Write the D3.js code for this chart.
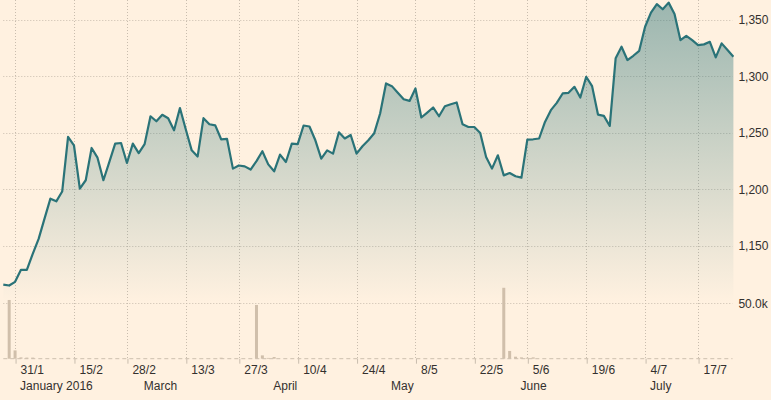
<!DOCTYPE html>
<html>
<head>
<meta charset="utf-8">
<script src="https://cdn.jsdelivr.net/npm/d3@7"></script>
<style>
  html, body { margin: 0; padding: 0; background: #fff1e0; }
  svg { display: block; }
  text { font-family: "Liberation Sans", Arial, sans-serif; }
</style>
</head>
<body>
<svg id="chart" width="771" height="400"></svg>
<script>
// ---- data ----
// trading-day index 0 = 28 Jan 2016 ... 124 = 26 Jul 2016
const prices = [
  1115.5,1114.7,1118,1128.6,1128.6,1142.8,1156,1174,1191.7,1189.3,
  1198,1246.4,1239,1200.5,1208,1236.6,1228,1208,1224,1240.5,
  1241,1223.3,1240.5,1232,1240,1264.7,1260.3,1266,1263,1252.3,
  1272,1253,1234.5,1229,1263,1257.6,1256.6,1244.3,1244.6,1218.3,
  1221.1,1220.3,1217.5,1225,1233.7,1222.1,1215.9,1230.7,1224.2,1240.5,
  1240,1256.5,1255.6,1243.4,1227.2,1234.5,1231.6,1250.5,1245,1248.1,
  1231.6,1238.1,1243.4,1249.7,1267.1,1293.8,1291.4,1285.5,1279.8,1278.3,
  1289.3,1263.6,1268,1272.5,1264.7,1273.6,1275.4,1276.9,1257.6,1255.2,
  1255.2,1249.9,1228.6,1218.3,1230.1,1212.3,1214.4,1211.5,1210.3,1244,
  1244.3,1245,1259.7,1270.1,1276.6,1284.9,1285.5,1290.8,1281.3,1299.7,
  1291.4,1266.2,1265,1256.1,1316,1326.3,1314.5,1318.3,1322.7,1344,
  1356.5,1364,1359.5,1365.4,1355.3,1332.2,1336,1332.2,1327.8,1328.4,
  1330.7,1316.9,1329.3,1323.4,1317.4
];
const volume = [
  0,53000,7500,1200,1000,1000,0,0,0,0,
  0,800,0,0,0,0,0,0,0,0,
  0,0,0,0,0,0,0,0,0,0,
  0,0,0,0,0,0,0,900,0,0,
  0,0,0,48500,3000,700,1500,0,0,0,
  0,0,0,0,0,0,0,0,0,0,
  0,0,0,0,0,0,0,0,0,0,
  0,0,0,0,0,0,0,0,0,0,
  0,0,0,0,0,64000,7000,1800,1200,800,
  1200,0,0,0,0,0,0,0,0,0,
  0,0,0,0,0,0,0,0,0,0,
  0,0,0,0,0,0,0,0,0,0,
  0,0,0,0,0
];
const tickIndex  = [2, 12, 21, 31, 40, 50, 60, 70, 80, 89, 99, 109, 118];
const tickLabels = ["31/1","15/2","28/2","13/3","27/3","10/4","24/4","8/5","22/5","5/6","19/6","4/7","17/7"];
const monthIndex  = [2, 23, 45, 65, 87, 109];
const monthLabels = ["January 2016","March","April","May","June","July"];
const priceTicks  = [1150, 1200, 1250, 1300, 1350];
const volumeTicks = [50000];

// ---- layout ----
const svg = d3.select("#chart");
const left = 3.3, right = 733.4, gridRight = 732.5;
const baseY = 358.7;

const x  = d3.scaleLinear().domain([0, prices.length - 1]).range([left, right]);
const y  = d3.scaleLinear().domain([1150, 1350]).range([245.7, 20]);
const yv = d3.scaleLinear().domain([0, 50000]).range([baseY, 303.3]);

const gridColor = "#c9bdae";

// gradient
const defs = svg.append("defs");
const grad = defs.append("linearGradient").attr("id", "fillGrad")
  .attr("gradientUnits", "userSpaceOnUse").attr("x1", 0).attr("x2", 0).attr("y1", 0).attr("y2", 302);
grad.append("stop").attr("offset", 0).attr("stop-color", "#2a7378").attr("stop-opacity", 0.47);
grad.append("stop").attr("offset", 1).attr("stop-color", "#2a7378").attr("stop-opacity", 0.0);

// vertical grid
svg.append("g").selectAll("line").data(tickIndex).join("line")
  .attr("x1", d => Math.round(x(d)) + 0.5).attr("x2", d => Math.round(x(d)) + 0.5)
  .attr("y1", 0).attr("y2", baseY)
  .attr("stroke", gridColor).attr("stroke-width", 1).attr("stroke-dasharray", "1,2");

// horizontal grid (price)
svg.append("g").selectAll("line").data(priceTicks).join("line")
  .attr("x1", left).attr("x2", gridRight)
  .attr("y1", d => Math.round(y(d)) + 0.5).attr("y2", d => Math.round(y(d)) + 0.5)
  .attr("stroke", gridColor).attr("stroke-width", 1).attr("stroke-dasharray", "1,2");
// horizontal grid (volume)
svg.append("g").selectAll("line").data(volumeTicks).join("line")
  .attr("x1", left).attr("x2", gridRight)
  .attr("y1", d => Math.round(yv(d)) + 0.5).attr("y2", d => Math.round(yv(d)) + 0.5)
  .attr("stroke", gridColor).attr("stroke-width", 1).attr("stroke-dasharray", "1,2");

// area + line
const area = d3.area().x((d, i) => x(i)).y0(302).y1(d => y(d));
svg.append("path").datum(prices).attr("d", area).attr("fill", "url(#fillGrad)");
const line = d3.line().x((d, i) => x(i)).y(d => y(d));
svg.append("path").datum(prices).attr("d", line)
  .attr("fill", "none").attr("stroke", "#2a7378").attr("stroke-width", 2.2)
  .attr("stroke-linejoin", "round");

// volume bars
svg.append("g").selectAll("rect").data(volume.map((v, i) => ({v, i})).filter(d => d.v > 0)).join("rect")
  .attr("x", d => x(d.i) - 1.5).attr("width", 3)
  .attr("y", d => yv(d.v)).attr("height", d => baseY - yv(d.v))
  .attr("fill", "#d0bfab");

// baseline (dashed)
svg.append("line").attr("x1", left).attr("x2", gridRight)
  .attr("y1", baseY).attr("y2", baseY)
  .attr("stroke", "#cdbfae").attr("stroke-width", 1).attr("stroke-dasharray", "4,3");

// x axis
const xAxis = d3.axisBottom(x).tickValues(tickIndex)
  .tickFormat((d, i) => tickLabels[i]).tickSize(5).tickSizeOuter(0);
const gx = svg.append("g").attr("transform", `translate(0,${baseY})`).call(xAxis);
gx.select(".domain").remove();
gx.selectAll(".tick line").attr("stroke", "#c9bdae").attr("transform", "translate(0.5,0)");
gx.selectAll(".tick text").attr("text-anchor", "start").attr("x", 5).attr("y", 7)
  .attr("fill", "#33302e").attr("font-size", 12).attr("font-family", "Liberation Sans, Arial, sans-serif");

// month labels
svg.append("g").selectAll("text").data(monthIndex).join("text")
  .attr("x", d => x(d) + 5).attr("y", 390)
  .attr("fill", "#33302e").attr("font-size", 12)
  .text((d, i) => monthLabels[i]);

// right axis price
const yAxis = d3.axisRight(y).tickValues(priceTicks).tickFormat(d3.format(",")).tickSize(0).tickPadding(5);
const gy = svg.append("g").attr("transform", `translate(${right},0)`).call(yAxis);
gy.select(".domain").remove();
gy.selectAll("text").attr("fill", "#33302e").attr("font-size", 12).attr("font-family", "Liberation Sans, Arial, sans-serif");

const vAxis = d3.axisRight(yv).tickValues(volumeTicks).tickFormat(d => (d / 1000).toFixed(1) + "k").tickSize(0).tickPadding(5);
const gv = svg.append("g").attr("transform", `translate(${right},0)`).call(vAxis);
gv.select(".domain").remove();
gv.selectAll("text").attr("fill", "#33302e").attr("font-size", 12).attr("font-family", "Liberation Sans, Arial, sans-serif");
</script>
</body>
</html>
